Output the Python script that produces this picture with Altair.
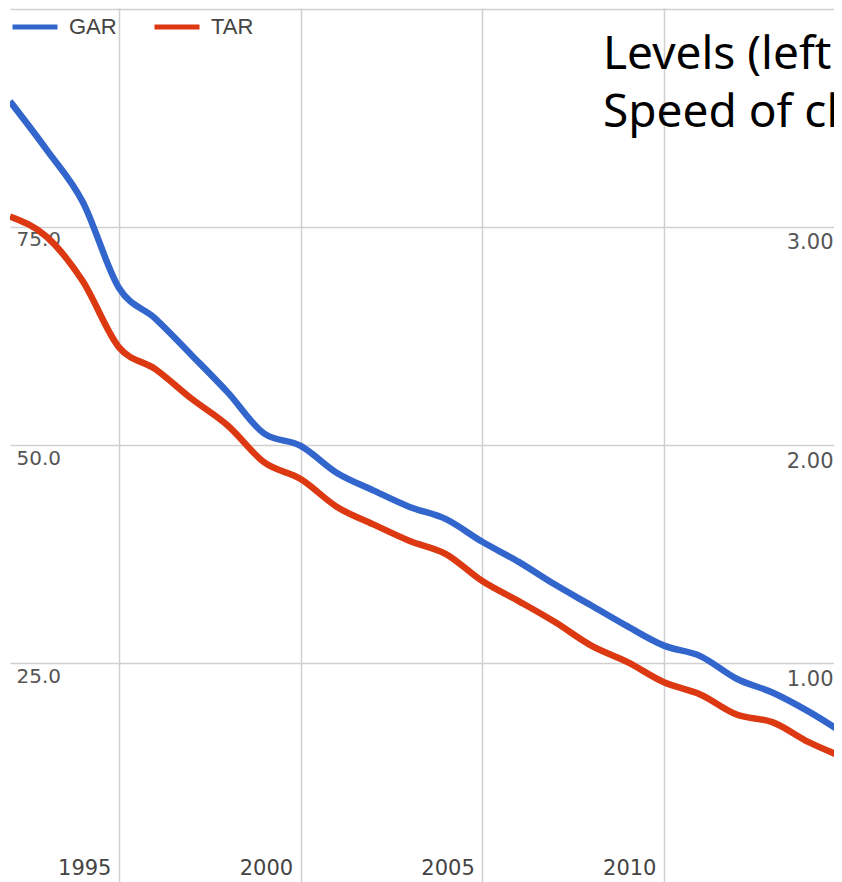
import altair as alt
import pandas as pd

years = list(range(1992, 2016))
gar = [89.4, 83.9, 77.9, 68.0, 64.5, 60.3, 56.0, 51.3, 49.9, 46.8, 44.8, 42.9,
       41.5, 38.9, 36.6, 34.0, 31.6, 29.2, 27.0, 25.8, 23.2, 21.6, 19.4, 16.8]
tar = [76.2, 73.9, 68.8, 61.2, 58.7, 55.3, 52.2, 48.0, 46.1, 42.9, 40.9, 39.0,
       37.5, 34.4, 32.1, 29.7, 27.0, 25.1, 22.8, 21.4, 19.1, 18.2, 15.9, 14.1]
series_names = ["GAR", "TAR"]
series_colors = ["#3366cc", "#dc3912"]
x_ticks = [1995, 2000, 2005, 2010]
y_grid = [25, 50, 75, 100]
y_labels_right = [25, 50, 75]
title_lines = ["Levels (left", "Speed of ch"]

df = pd.DataFrame({
    "year": years * 2,
    "value": gar + tar,
    "series": ["GAR"] * len(years) + ["TAR"] * len(years),
})

x_enc = alt.X("year:Q",
              scale=alt.Scale(domain=[1992.0, 2014.68], nice=False, zero=False),
              axis=alt.Axis(values=x_ticks, title=None, grid=True, domain=False, ticks=False,
                            labelExpr="format(datum.value, 'd')", labelAlign="right",
                            labelBaseline="alphabetic", labelOffset=-8, labelPadding=-8,
                            labelFont="DejaVu Sans", labelFontSize=21, labelColor="#444444"))
y_scale = alt.Scale(domain=[-0.1, 100.1], nice=False, zero=False)
color_enc = alt.Color("series:N",
                      scale=alt.Scale(domain=series_names, range=series_colors),
                      legend=alt.Legend(orient="none", legendX=0, legendY=-6, direction="horizontal",
                                        title=None, symbolType="stroke", symbolStrokeWidth=5,
                                        symbolSize=2025, labelFont="Liberation Sans",
                                        labelFontSize=22, labelColor="#444444", labelOffset=9,
                                        columnPadding=27, padding=0))

left = alt.Chart(df).transform_filter(alt.datum.series == "GAR").mark_line(
    strokeWidth=6.5, interpolate="monotone", clip=True
).encode(
    x=x_enc,
    y=alt.Y("value:Q", scale=y_scale,
            axis=alt.Axis(orient="left", values=y_grid, title=None, grid=True, domain=False,
                          ticks=False,
                          labelExpr="datum.value == 100 ? '' : format(datum.value, '.1f')",
                          labelAlign="left", labelBaseline="alphabetic", labelPadding=-6,
                          labelOffset=19, labelFont="DejaVu Sans", labelFontSize=20,
                          labelColor="#555555")),
    color=color_enc,
)

right = alt.Chart(df).transform_filter(alt.datum.series == "TAR").mark_line(
    strokeWidth=6.5, interpolate="monotone", clip=True
).encode(
    x=x_enc,
    y=alt.Y("value:Q", scale=y_scale,
            axis=alt.Axis(orient="right", values=y_labels_right, title=None, grid=False,
                          domain=False, ticks=False,
                          labelExpr="format(datum.value / 25, '.2f')",
                          labelAlign="right", labelBaseline="alphabetic", labelPadding=-1,
                          labelOffset=22, labelFont="DejaVu Sans", labelFontSize=21,
                          labelColor="#555555")),
    color=color_enc,
)

chart = alt.layer(left, right).resolve_scale(y="shared").resolve_axis(y="independent").properties(
    width=824, height=874,
    padding={"left": 2, "right": 0, "top": 0, "bottom": 0},
    autosize=alt.AutoSizeParams(type="none"),
    title=alt.Title(title_lines, orient="top", anchor="start", frame="group", baseline="alphabetic",
                    dx=593, dy=171, offset=0, font="Noto Sans", fontSize=46, fontWeight="normal",
                    color="#000000", lineHeight=58),
).configure_view(stroke=None).configure_axis(gridColor="#d0d0d0", gridWidth=1.5)

chart.save("out.html", embed_options={"renderer": "svg", "actions": False})
